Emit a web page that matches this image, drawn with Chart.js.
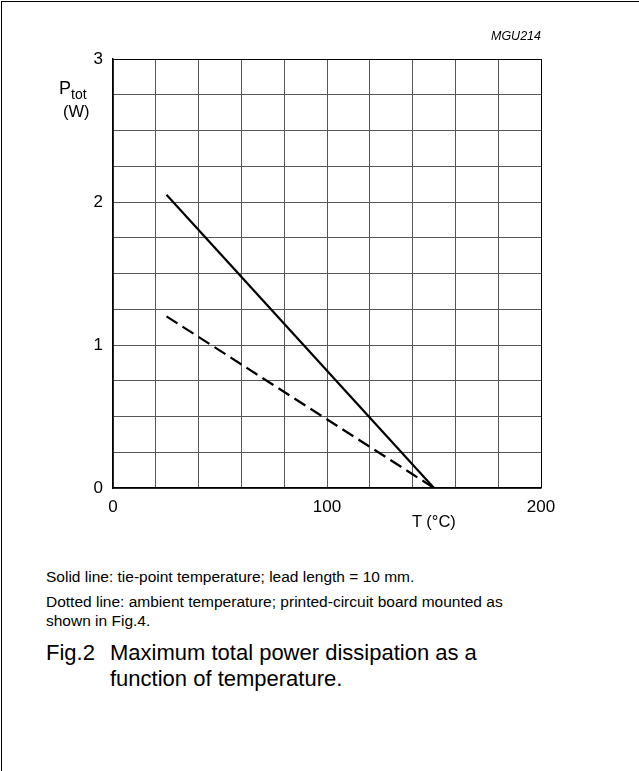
<!DOCTYPE html>
<html>
<head>
<meta charset="utf-8">
<script src="https://cdn.jsdelivr.net/npm/chart.js@4.4.1/dist/chart.umd.min.js"></script>
<style>
  html, body { margin: 0; padding: 0; background: #fff; }
  body { width: 639px; height: 771px; position: relative; overflow: hidden;
         font-family: "Liberation Sans", Arial, sans-serif; color: #000; }
  .frame { position: absolute; left: 1px; top: 1px; width: 660px; height: 800px;
           border-top: 1.5px solid #000; border-left: 1.5px solid #000; }
  .chartBox { position: absolute; left: 0; top: 0; width: 639px; height: 540px; }
  .txt { position: absolute; white-space: nowrap; }
</style>
</head>
<body>
<div class="frame"></div>
<div class="chartBox"><canvas id="chart"></canvas></div>

<div class="txt" style="right:98px; top:29px; font-size:12.5px; font-style:italic;">MGU214</div>
<div class="txt" style="left:59px; top:78px; font-size:18px;">P<sub style="font-size:14px; vertical-align:-5px;">tot</sub></div>
<div class="txt" style="left:63px; top:102px; font-size:16.5px;">(W)</div>
<div class="txt" style="left:412px; top:512px; font-size:16.5px;">T (°C)</div>

<div class="txt" style="left:46px; top:568px; font-size:15.5px;">Solid line: tie-point temperature; lead length = 10 mm.</div>
<div class="txt" style="left:46px; top:593px; font-size:15.5px;">Dotted line: ambient temperature; printed-circuit board mounted as</div>
<div class="txt" style="left:46px; top:612px; font-size:15.5px;">shown in Fig.4.</div>
<div class="txt" style="left:46px; top:640px; font-size:22px;">Fig.2</div>
<div class="txt" style="left:110px; top:640px; font-size:22px;">Maximum total power dissipation as a</div>
<div class="txt" style="left:110px; top:666px; font-size:22px;">function of temperature.</div>

<script>
// values
const tempC = [25, 150];
const solidP = [2.05, 0];   // tie-point, lead length 10 mm
const dottedP = [1.2, 0];   // ambient, PCB mounted
const xTickLabels = [0, 100, 200];
const yTickLabels = [0, 1, 2, 3];

const toPoints = (xs, ys) => xs.map((x, i) => ({ x: x, y: ys[i] }));

const tickFont = { family: '"Liberation Sans", Arial, sans-serif', size: 17 };

const ctx = document.getElementById('chart').getContext('2d');
new Chart(ctx, {
  type: 'line',
  data: {
    datasets: [
      {
        label: 'Solid line',
        data: toPoints(tempC, solidP),
        borderColor: '#000',
        borderWidth: 2.2,
        pointRadius: 0,
      },
      {
        label: 'Dotted line',
        data: toPoints(tempC, dottedP),
        borderColor: '#000',
        borderWidth: 2.2,
        borderDash: [13, 6],
        pointRadius: 0,
      },
    ],
  },
  options: {
    responsive: true,
    maintainAspectRatio: false,
    animation: false,
    devicePixelRatio: 1,
    layout: { padding: { top: 59, right: 98, left: 0, bottom: 0 } },
    plugins: { legend: { display: false }, tooltip: { enabled: false } },
    scales: {
      x: {
        type: 'linear',
        min: 0,
        max: 200,
        ticks: {
          stepSize: 20,
          color: '#000',
          font: tickFont,
          padding: 9,
          maxRotation: 0,
          autoSkip: false,
          callback: (v) => (xTickLabels.includes(v) ? String(v) : ''),
        },
        grid: {
          drawTicks: false,
          lineWidth: 1,
          color: (c) => (c.tick && c.tick.value === 200 ? '#000' : '#555'),
        },
        border: { color: '#000', width: 1.5 },
        afterFit: (scale) => { scale.height = 52; },
      },
      y: {
        type: 'linear',
        min: 0,
        max: 3,
        ticks: {
          stepSize: 0.25,
          color: '#000',
          font: tickFont,
          padding: 10,
          autoSkip: false,
          callback: (v) => (yTickLabels.includes(v) ? String(v) : ''),
        },
        grid: {
          drawTicks: false,
          lineWidth: 1,
          color: (c) => (c.tick && c.tick.value === 3 ? '#000' : '#555'),
        },
        border: { color: '#000', width: 1.5 },
        afterFit: (scale) => { scale.width = 113; },
      },
    },
  },
});
</script>
</body>
</html>
